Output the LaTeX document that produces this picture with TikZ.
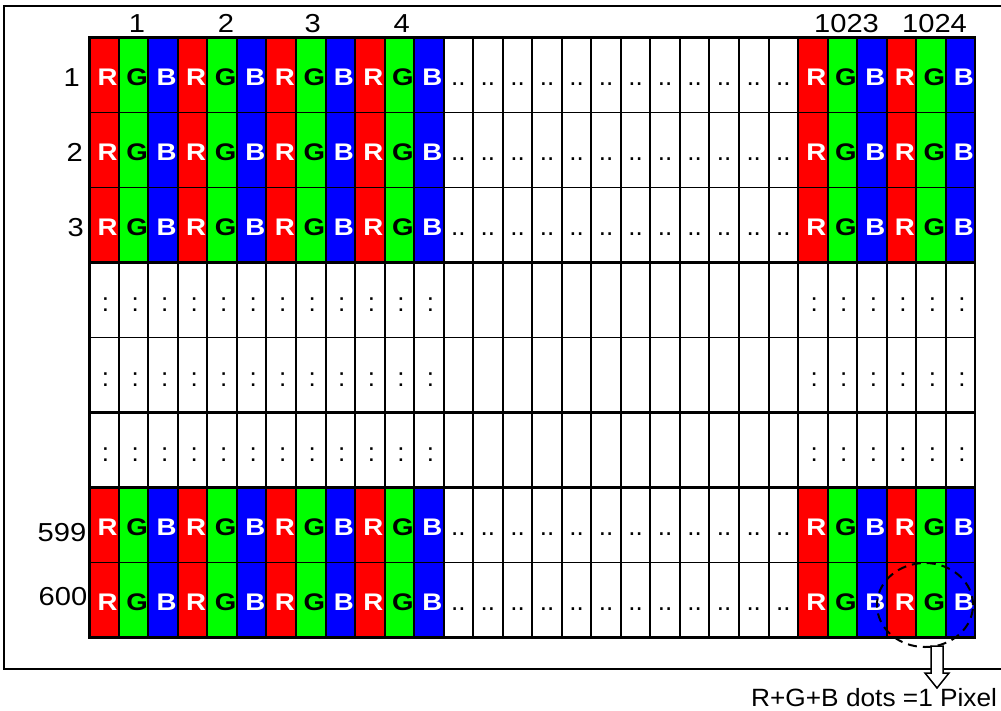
\documentclass[tikz,border=0pt]{standalone}
\usepackage{fontspec}
\setmainfont{Liberation Sans}
\usepackage{graphicx}
\usetikzlibrary{shapes.geometric}
\definecolor{cR}{RGB}{255,0,0}
\definecolor{cG}{RGB}{0,255,0}
\definecolor{cB}{RGB}{0,0,255}
\begin{document}
\begin{tikzpicture}[x=1pt,y=-1pt,
  cellbox/.style={minimum width=29.53pt,minimum height=75pt,inner sep=0pt,outer sep=0pt,anchor=north west},
  lett/.style={inner sep=0pt,font=\fontsize{24}{24}\selectfont\bfseries},
  dotst/.style={inner sep=0pt,anchor=base,font=\fontsize{26}{26}\selectfont},
  numlab/.style={inner sep=0pt,font=\fontsize{26}{26}\selectfont},
  gridthin/.style={line width=1.3pt},
  gridthick/.style={line width=2.5pt},
  gridvert/.style={line width=2pt}]
\useasboundingbox (0,0) rectangle (1001,710);
% outer frame
\draw[line width=2.6pt] (1004,6) -- (4,6) -- (4,669) -- (1004,669);
% coloured cells
\foreach \j in {0,1,2,6,7}{
  \foreach \p in {0,1,2,3,8,9}{
    \foreach \s/\c/\l/\tc in {0/cR/R/white,1/cG/G/black,2/cB/B/white}{
      \pgfmathtruncatemacro\i{3*\p+\s}
      \pgfmathsetmacro\x{89.3+29.53*\i}
      \pgfmathsetmacro\y{37.5+75*\j}
      \node[cellbox,fill=\c] (c-\j-\i) at (\x,\y) {};
      \node[lett,text=\tc] (t-\j-\i) at ([xshift=3.5pt,yshift=-2.5pt]c-\j-\i.center) {\scalebox{1.15}[1]{\l}};
    }
  }
}
% ".." cells in the middle of coloured rows
\foreach \j in {0,1,2,6,7}{
  \foreach \i in {12,...,23}{
    \pgfmathsetmacro\x{89.3+29.53*\i}
    \pgfmathsetmacro\y{37.5+75*\j}
    \node[dotst] (e-\j-\i) at (\x+14.77,\y+47.5) {..};
  }
}
% ":" cells in the dotted rows
\foreach \j in {3,4,5}{
  \foreach \i in {0,1,2,3,4,5,6,7,8,9,10,11,24,25,26,27,28,29}{
    \pgfmathsetmacro\x{89.3+29.53*\i}
    \pgfmathsetmacro\y{37.5+75*\j}
    \node[dotst] (d-\j-\i) at (\x+16.3,\y+49) {:};
  }
}
% grid lines
\foreach \i in {1,...,29}{
  \draw[gridvert] (89.3+29.53*\i,37.5) -- (89.3+29.53*\i,637.5);
}
\foreach \j in {1,2,4,7}{
  \draw[gridthin] (89.3,37.5+75*\j) -- (975.2,37.5+75*\j);
}
\foreach \j in {3,5,6}{
  \draw[gridthick] (89.3,37.5+75*\j) -- (975.2,37.5+75*\j);
}
\draw[gridthick] (89.3,37.5) rectangle (975.2,637.5);
% column numbers
\node[numlab,anchor=base] (n1) at (137,32.5) {\scalebox{1.12}[1]{1}};
\node[numlab,anchor=base] (n2) at (226,32.5) {\scalebox{1.12}[1]{2}};
\node[numlab,anchor=base] (n3) at (312.7,32.5) {\scalebox{1.12}[1]{3}};
\node[numlab,anchor=base] (n4) at (401.7,32.5) {\scalebox{1.12}[1]{4}};
\node[numlab,anchor=base] (n1023) at (846.5,32.5) {\scalebox{1.12}[1]{1023}};
\node[numlab,anchor=base] (n1024) at (934.5,32.5) {\scalebox{1.12}[1]{1024}};
% row numbers
\node[numlab,anchor=east] (r1) at (80,77.3) {\scalebox{1.12}[1]{1}};
\node[numlab,anchor=east] (r2) at (83,152.4) {\scalebox{1.12}[1]{2}};
\node[numlab,anchor=east] (r3) at (84,227.4) {\scalebox{1.12}[1]{3}};
\node[numlab,anchor=east] (r599) at (86.5,533) {\scalebox{1.12}[1]{599}};
\node[numlab,anchor=east] (r600) at (87.5,597) {\scalebox{1.12}[1]{600}};
% pixel highlight
\node[draw,ellipse,minimum width=96pt,minimum height=84pt,inner sep=0pt,line width=2pt,dash pattern=on 9pt off 6pt] (pix) at (925,605) {};
% caption
\node[inner sep=0pt,anchor=base west,font=\fontsize{25}{25}\selectfont] (cap) at (751,706) {\scalebox{1.05}[1]{R+G+B dots =1 Pixel}};
% hollow arrow
\draw[line width=1.5pt,fill=white,line join=miter] (931,646) -- (931,673) -- (925,673) -- (937,688) -- (949,673) -- (943,673) -- (943,646) -- cycle;
\end{tikzpicture}
\end{document}
